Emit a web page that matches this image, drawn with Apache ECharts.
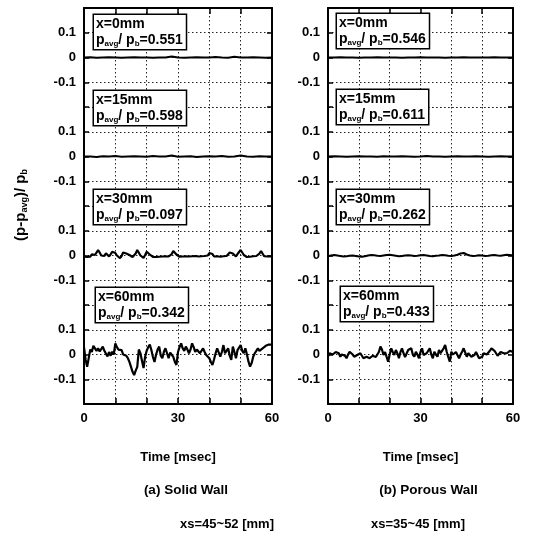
<!DOCTYPE html>
<html><head><meta charset="utf-8">
<script src="https://cdn.jsdelivr.net/npm/echarts@6/dist/echarts.min.js"></script>
<style>html,body{margin:0;padding:0;background:#fff}#c{width:534px;height:533px}</style>
</head><body><div id="c"></div>
<script>
// ---------- data ----------
const fineStep = 0.5;   // ms
const midStep = 1;      // ms
const coarseStep = 2;   // ms
const xTickLabels = ['0', '30', '60'];
const yTickLabels = ['-0.1', '0', '0.1'];
const wallTitles = ['(a) Solid Wall', '(b) Porous Wall'];
const wallRanges = ['xs=45~52 [mm]', 'xs=35~45 [mm]'];
const stations = ['x=0mm', 'x=15mm', 'x=30mm', 'x=60mm'];
const solidRatio = ['0.551', '0.598', '0.097', '0.342'];
const porousRatio = ['0.546', '0.611', '0.262', '0.433'];

const solid0 = [0,0.001,-0.001,0,0.001,0,-0.001,0,0.001,0,0,-0.001,0,0,0.004,0,-0.001,0,0.001,0,0,0.002,0,-0.001,0.003,0,0,0.001,0,-0.001,0];
const solid15 = [0,0,-0.002,0.001,0,0.002,-0.001,0,0.001,0,-0.001,0.002,0,0,0.004,-0.001,0,0.001,-0.002,0,0.001,0,0.002,-0.001,0,0.004,0,-0.001,0.001,0,0];
const solid30 = [
 -0.005,-0.004,-0.006,0.0,-0.005,0.005,-0.003,0.002,0.01,0.022,0.012,0.0,-0.005,-0.002,0.009,0.004,-0.004,0.005,0.015,0.022,
 0.01,0.0,-0.008,-0.011,-0.002,0.012,0.018,0.008,0.016,0.002,-0.005,-0.006,-0.003,0.008,0.022,0.015,0.0,-0.008,-0.01,0.002,
 0.015,0.012,0.004,-0.004,-0.006,-0.003,-0.006,-0.002,-0.005,-0.007,-0.004,-0.006,-0.003,-0.005,-0.004,0.0,0.006,0.018,0.01,0.004,
 -0.003,-0.005,0.0,-0.004,-0.006,-0.003,0.002,-0.004,-0.006,-0.003,-0.005,-0.002,-0.006,-0.004,-0.007,-0.003,-0.005,-0.002,-0.004,0.0,
 0.01,0.015,0.006,-0.004,-0.006,-0.003,-0.007,-0.005,-0.006,-0.003,-0.005,-0.002,0.004,0.012,0.018,0.008,0.002,-0.004,0.006,0.014,
 0.022,0.012,0.002,-0.004,-0.006,-0.003,-0.005,-0.006,-0.003,-0.005,-0.002,0.002,0.008,0.018,0.01,-0.003,-0.006,-0.004,-0.005,-0.003,-0.004];
const solid60 = [
 0.03,-0.02,-0.05,-0.045,0.02,0.01,0.035,0.03,0.015,0.025,0.012,0.02,0.032,0.015,0.008,-0.008,0.01,-0.005,0.012,0.0,
 0.045,0.03,0.02,0.012,0.018,0.0,0.008,-0.005,-0.015,-0.03,-0.05,-0.07,-0.083,-0.065,-0.05,0.02,0.005,-0.025,-0.055,-0.01,
 0.015,0.03,0.04,0.018,-0.01,-0.03,0.0,0.02,0.032,-0.005,-0.015,0.011,0.025,0.005,-0.015,0.008,0.0,-0.01,-0.03,-0.042,
 0.01,0.03,0.045,0.025,0.015,0.032,0.02,0.005,0.02,0.045,0.03,0.011,0.02,0.025,0.005,0.01,0.025,0.01,-0.002,-0.005,
 -0.015,-0.03,-0.042,-0.02,0.005,0.025,0.032,-0.009,0.01,0.038,0.005,0.01,0.025,-0.005,-0.022,0.032,0.01,-0.015,0.018,0.025,
 0.038,0.015,0.005,0.025,0.0,-0.029,-0.049,-0.035,-0.009,0.005,0.015,0.025,0.015,0.011,0.025,0.032,0.035,0.038,0.04,0.045,0.04];

const porous0 = [0,0,0.001,0,0,-0.001,0,0,0.001,0,0,0,-0.001,0,0,0.001,0,0,0,-0.001,0,0,0.001,0,0,0,0,0.001,0,0,0];
const porous15 = [0,0.001,0,-0.001,0,0.001,0,0,-0.001,0.001,0,0,0.001,0,-0.001,0,0.002,0,0,-0.001,0,0.001,0,0,0.001,0,-0.001,0,0.001,0,0];
const porous30 = [
 -0.003,0.0,0.002,0.0,-0.002,-0.004,-0.003,-0.001,0.0,-0.002,
 -0.004,-0.005,-0.003,0.0,0.002,0.001,-0.001,-0.002,0.0,0.002,
 0.003,0.001,-0.001,-0.003,-0.002,0.0,0.001,0.0,-0.002,-0.001,
 0.001,0.002,0.0,-0.002,-0.003,-0.001,0.0,0.002,0.001,-0.001,
 -0.002,0.0,0.003,0.008,0.01,0.004,0.0,-0.002,-0.001,0.001,
 0.0,-0.002,-0.001,0.001,0.002,0.0,-0.001,0.001,0.003,0.002,0.0];
const porous60 = [
 -0.008,0.005,0.011,0.0,-0.003,0.01,0.018,0.005,-0.009,0.0,0.005,-0.005,-0.015,0.0,0.011,0.015,0.0,-0.009,-0.003,-0.002,
 0.002,0.005,-0.005,-0.015,-0.01,-0.009,-0.012,-0.015,-0.01,-0.005,-0.002,-0.01,-0.015,0.01,0.032,0.02,-0.002,0.01,0.018,-0.029,
 0.0,0.025,0.01,-0.002,0.018,0.005,-0.015,0.01,0.025,0.005,-0.01,-0.015,0.018,0.022,0.025,0.0,-0.009,0.011,0.0,-0.015,
 0.01,0.025,-0.002,0.005,0.005,0.015,0.025,0.0,-0.015,0.011,0.0,-0.009,0.018,0.005,-0.002,0.025,0.038,0.011,-0.01,-0.029,
 0.011,0.0,-0.002,0.01,0.018,-0.015,0.0,0.011,0.025,0.03,-0.009,0.005,0.011,-0.009,-0.005,-0.002,0.01,0.018,-0.015,-0.01,
 -0.009,0.005,0.011,0.0,-0.002,0.015,0.025,0.032,0.015,0.005,-0.005,-0.009,0.01,0.018,0.005,-0.002,0.005,0.011,0.015,0.018,0.01];

// ---------- layout / style ----------
const FONT = '"Liberation Sans", Arial, sans-serif';
const wallLeft = [84, 328];
const wallWidth = [188, 185];
const gridTop = 8, panelH = 99;
const traces = [
  [[solid0, coarseStep], [solid15, coarseStep], [solid30, fineStep], [solid60, fineStep]],
  [[porous0, coarseStep], [porous15, coarseStep], [porous30, midStep], [porous60, fineStep]]
];
const ratios = [solidRatio, porousRatio];
const boxPos = [
  [[94, 15], [94, 91], [94, 190], [96, 288]],
  [[337, 14], [337, 90], [337, 190], [341, 287]]
];
const gridLine = { show: true, lineStyle: { color: '#222', width: 1, type: [1.5, 2.5] } };
const frameLine = { show: true, onZero: false, lineStyle: { color: '#000', width: 2 } };

const grid = [], xAxis = [], yAxis = [], series = [], graphic = [];

for (let w = 0; w < 2; w++) {
  for (let k = 0; k < 4; k++) {
    const g = w * 4 + k;
    grid.push({ left: wallLeft[w], width: wallWidth[w], top: gridTop + panelH * k, height: panelH });
    const edge = (k === 0 || k === 3);
    xAxis.push({
      type: 'value', gridIndex: g, min: 0, max: 60, interval: 10,
      position: k === 0 ? 'top' : 'bottom',
      axisLine: edge ? frameLine : { show: false, onZero: false },
      axisTick: { show: edge, inside: true, length: 6, lineStyle: { color: '#000', width: 1.5 } },
      axisLabel: {
        show: k === 3, margin: 8, color: '#000', fontSize: 13, fontWeight: 'bold', fontFamily: FONT,
        formatter: v => xTickLabels.includes(String(v)) ? String(v) : ''
      },
      splitLine: gridLine
    });
    yAxis.push({
      type: 'value', gridIndex: g, min: -0.2, max: 0.2, interval: 0.1, position: 'left',
      axisLine: frameLine,
      axisTick: { show: true, inside: true, length: 5, lineStyle: { color: '#000', width: 1.5 } },
      axisLabel: {
        show: true, margin: 8, color: '#000', fontSize: 13, fontWeight: 'bold', fontFamily: FONT,
        formatter: v => {
          const s = Math.abs(v) < 1e-9 ? '0' : v.toFixed(1);
          return yTickLabels.includes(s) ? s : '';
        }
      },
      splitLine: gridLine
    });
    yAxis.push({
      type: 'value', gridIndex: g, min: -0.2, max: 0.2, interval: 0.1, position: 'right',
      axisLine: frameLine,
      axisTick: { show: true, inside: true, length: 5, lineStyle: { color: '#000', width: 1.5 } },
      axisLabel: { show: false }, splitLine: { show: false }
    });
    const [arr, step] = traces[w][k];
    series.push({
      type: 'line', xAxisIndex: g, yAxisIndex: 2 * g,
      data: arr.map((v, i) => [i * step, v]),
      symbol: 'none', showSymbol: false, animation: false,
      lineStyle: { color: '#000', width: k >= 2 ? 2.2 : 1.9 }
    });
    graphic.push({
      type: 'text', z: 100, x: boxPos[w][k][0], y: boxPos[w][k][1],
      style: {
        text: '{m|' + stations[k] + '}\n{m|p}{s|avg}{m|/ p}{s|b}{m|=' + ratios[w][k] + '}',
        rich: {
          m: { fontSize: 14, fontFamily: FONT, fontWeight: 'bold', lineHeight: 16, fill: '#000' },
          s: { fontSize: 8, fontFamily: FONT, fontWeight: 'bold', lineHeight: 8, padding: [8, 0, 0, 0], fill: '#000' }
        },
        backgroundColor: '#fff', borderColor: '#000', borderWidth: 1.5, padding: [1, 3, 1, 2]
      }
    });
  }
  const cx = wallLeft[w] + wallWidth[w] / 2;
  graphic.push({ type: 'text', x: cx, y: 457, style: { text: 'Time [msec]', font: 'bold 13px ' + FONT, align: 'center', verticalAlign: 'middle', fill: '#000' } });
  graphic.push({ type: 'text', x: cx + 8, y: 490, style: { text: wallTitles[w], font: 'bold 13.5px ' + FONT, align: 'center', verticalAlign: 'middle', fill: '#000' } });
  graphic.push({ type: 'text', x: [227, 418][w], y: 524, style: { text: wallRanges[w], font: 'bold 13px ' + FONT, align: 'center', verticalAlign: 'middle', fill: '#000' } });
}
graphic.push({
  type: 'text', x: 21, y: 205, rotation: Math.PI / 2,
  style: {
    text: '{m|(p-p}{s|avg}{m|)/ p}{s|b}',
    rich: {
      m: { fontSize: 15, fontFamily: FONT, fontWeight: 'bold', lineHeight: 17, fill: '#000' },
      s: { fontSize: 9, fontFamily: FONT, fontWeight: 'bold', lineHeight: 9, padding: [8, 0, 0, 0], fill: '#000' }
    },
    align: 'center', verticalAlign: 'middle'
  }
});

const chart = echarts.init(document.getElementById('c'), null, { renderer: 'canvas' });
chart.setOption({ backgroundColor: '#fff', animation: false, grid, xAxis, yAxis, series, graphic });
</script></body></html>
